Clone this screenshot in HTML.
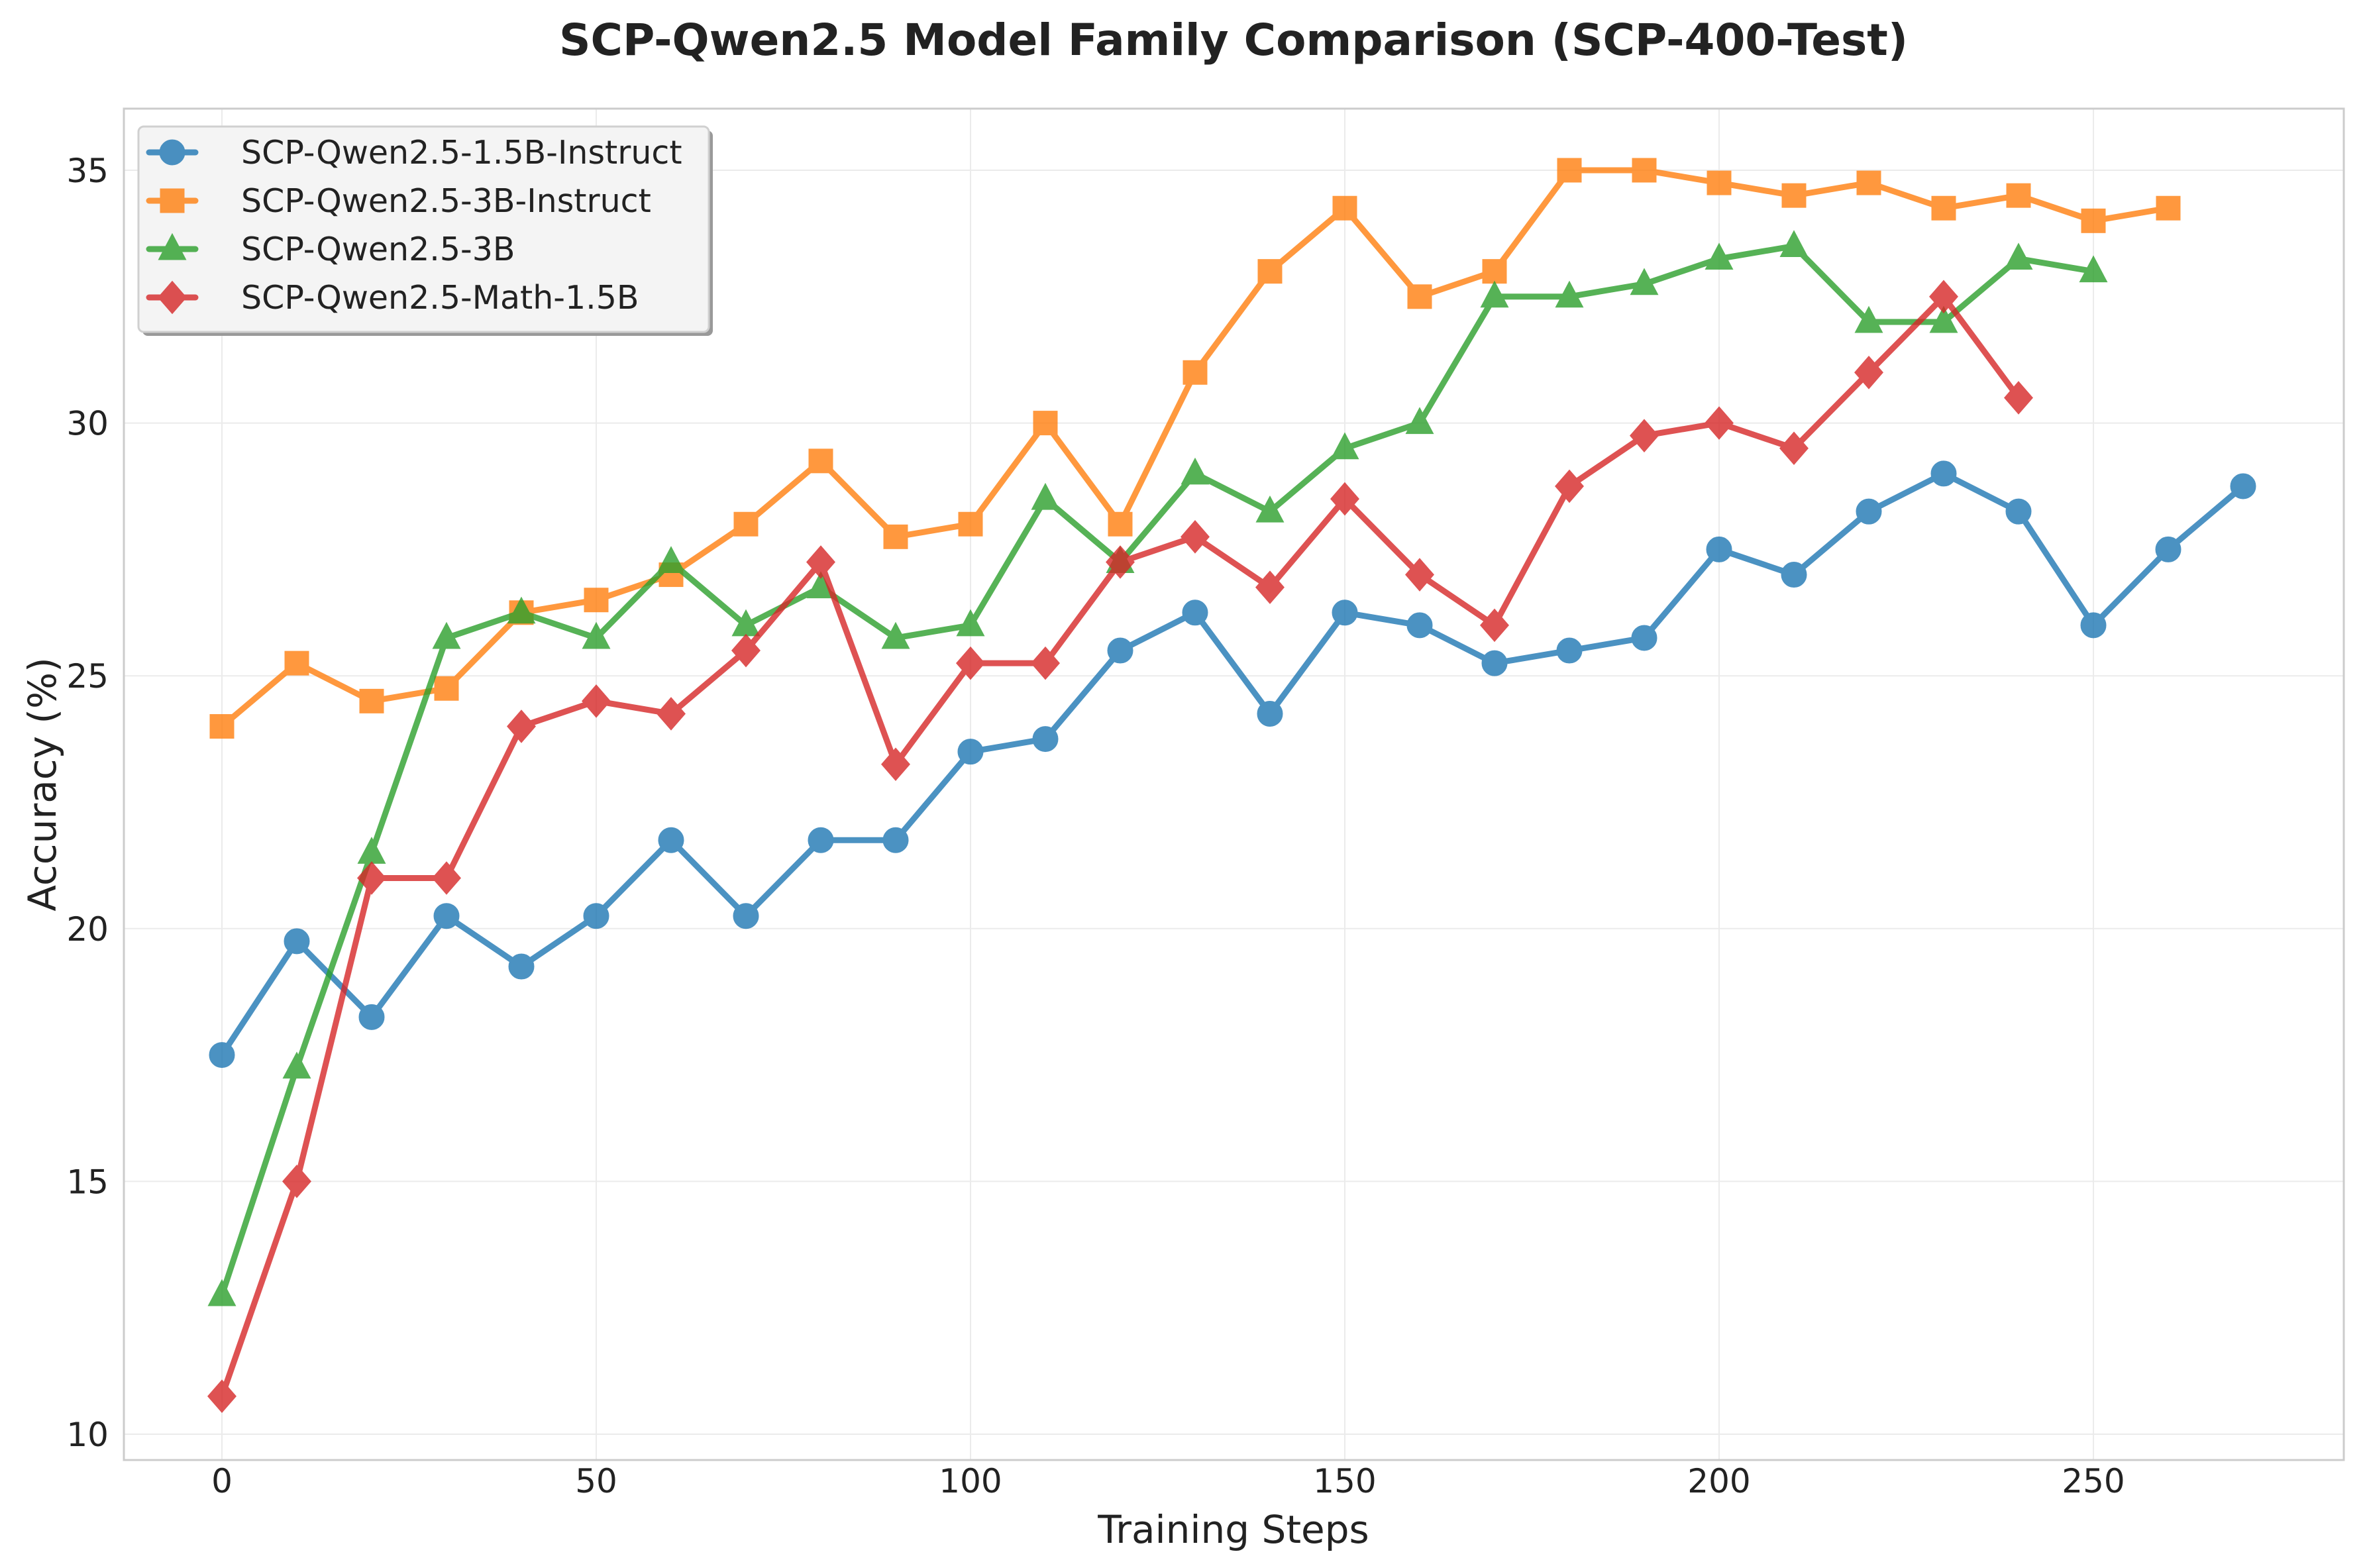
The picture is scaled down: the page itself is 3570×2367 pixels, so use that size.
<!DOCTYPE html>
<html><head><meta charset="utf-8"><style>
html,body{margin:0;padding:0;background:#fff;}
svg{display:block;font-family:"DejaVu Sans","Liberation Sans",sans-serif;}
</style></head><body>
<svg id="chart" width="3570" height="2367" viewBox="0 0 3570 2367" xmlns="http://www.w3.org/2000/svg">
<rect width="3570" height="2367" fill="#fff"/>
<text x="1862" y="83" text-anchor="middle" font-size="66" font-weight="bold" fill="#222">SCP-Qwen2.5 Model Family Comparison (SCP-400-Test)</text>
<g id="grid"></g>
<g id="series"></g>
<rect x="187" y="164" width="3351" height="2040" fill="none" stroke="#cccccc" stroke-width="3"/>
<g id="ticks"></g>
<text x="1862" y="2329" text-anchor="middle" font-size="58" fill="#222">Training Steps</text>
<text x="0" y="0" transform="translate(84,1184) rotate(-90)" text-anchor="middle" font-size="58" fill="#222">Accuracy (%)</text>
<g id="legend"></g>
</svg>
<script>
const xTicks = [0, 50, 100, 150, 200, 250];
const yTicks = [10, 15, 20, 25, 30, 35];
const seriesNames = ["SCP-Qwen2.5-1.5B-Instruct","SCP-Qwen2.5-3B-Instruct","SCP-Qwen2.5-3B","SCP-Qwen2.5-Math-1.5B"];
const blueValues = [17.5,19.75,18.25,20.25,19.25,20.25,21.75,20.25,21.75,21.75,23.5,23.75,25.5,26.25,24.25,26.25,26,25.25,25.5,25.75,27.5,27,28.25,29,28.25,26,27.5,28.75];
const orangeValues = [24,25.25,24.5,24.75,26.25,26.5,27,28,29.25,27.75,28,30,28,31,33,34.25,32.5,33,35,35,34.75,34.5,34.75,34.25,34.5,34,34.25];
const greenValues = [12.75,17.25,21.5,25.75,26.25,25.75,27.25,26,26.75,25.75,26,28.5,27.25,29,28.25,29.5,30,32.5,32.5,32.75,33.25,33.5,32,32,33.25,33];
const redValues = [10.75,15,21,21,24,24.5,24.25,25.5,27.25,23.25,25.25,25.25,27.25,27.75,26.75,28.5,27,26,28.75,29.75,30,29.5,31,32.5,30.5];
const stepInterval = 10;

const NS = "http://www.w3.org/2000/svg";
const X0 = 335, X250 = 3160, Y10 = 2165, Y35 = 257;
function xs(v){ return X0 + (X250 - X0) * v / 250; }
function ys(v){ return Y10 + (Y35 - Y10) * (v - 10) / 25; }
function mk(tag, attrs, parent){ const e = document.createElementNS(NS, tag); for (const k in attrs) e.setAttribute(k, attrs[k]); parent.appendChild(e); return e; }

const grid = document.getElementById("grid"), ticks = document.getElementById("ticks");
xTicks.forEach(t => {
  const g = mk("line", {x1: xs(t), x2: xs(t), y1: 164, y2: 2204, stroke: "#ebebeb", "stroke-width": 2}, grid);
  
  
  const l = mk("text", {x: xs(t), y: 2253, "text-anchor": "middle", "font-size": 50, fill: "#222"}, ticks);
  l.textContent = t;
  
  
});
yTicks.forEach(t => {
  const g = mk("line", {x1: 187, x2: 3538, y1: ys(t), y2: ys(t), stroke: "#ebebeb", "stroke-width": 2}, grid);
  
  
  const l = mk("text", {x: 164, y: ys(t) + 18, "text-anchor": "end", "font-size": 50, fill: "#222"}, ticks);
  l.textContent = t;
  
  
});

const colors = ["#1f77b4","#ff7f0e","#2ca02c","#d62728"];
const markers = ["circle","square","triangle","diamond"];
const allValues = [blueValues, orangeValues, greenValues, redValues];
function marker(type, cx, cy, color, parent){
  let e;
  if (type === "circle") e = mk("circle", {cx, cy, r: 18}, parent);
  else if (type === "square") e = mk("rect", {x: cx-17, y: cy-17, width: 34, height: 34}, parent);
  else if (type === "triangle") e = mk("polygon", {points: `${cx},${cy-21} ${cx-19},${cy+15} ${cx+19},${cy+15}`}, parent);
  else e = mk("polygon", {points: `${cx},${cy-23} ${cx+20},${cy} ${cx},${cy+23} ${cx-20},${cy}`}, parent);
  e.setAttribute("fill", color); e.setAttribute("stroke", color); e.setAttribute("stroke-width", 3);
  return e;
}
const sg = document.getElementById("series");
allValues.forEach((vals, i) => {
  const g = mk("g", {opacity: 0.8}, sg);
  
  
  const pts = vals.map((v, j) => xs(j*stepInterval) + "," + ys(v)).join(" ");
  const pl = mk("polyline", {points: pts, fill: "none", stroke: colors[i], "stroke-width": 9, "stroke-linejoin": "round", "stroke-linecap": "round"}, g);
  
  
  vals.forEach((v, j) => {
    const m = marker(markers[i], xs(j*stepInterval), ys(v), colors[i], g);
    
    
  });
});

const lg = document.getElementById("legend");
mk("rect", {x: 215, y: 197, width: 861, height: 310, rx: 8, fill: "#999"}, lg);
const box = mk("rect", {x: 209, y: 191, width: 861, height: 310, rx: 8, fill: "#f4f4f4", stroke: "#d0d0d0", "stroke-width": 3}, lg);


seriesNames.forEach((n, i) => {
  const cy = 230 + i * 73;
  const g = mk("g", {}, lg);
  
  
  const sub = mk("g", {opacity: 0.8}, g);
  mk("line", {x1: 225, x2: 295, y1: cy, y2: cy, stroke: colors[i], "stroke-width": 9, "stroke-linecap": "round"}, sub);
  marker(markers[i], 260, cy, colors[i], sub);
  const t = mk("text", {x: 364, y: cy + 17, "font-size": 49, fill: "#222"}, g);
  t.textContent = n;
});
</script>
</body></html>
